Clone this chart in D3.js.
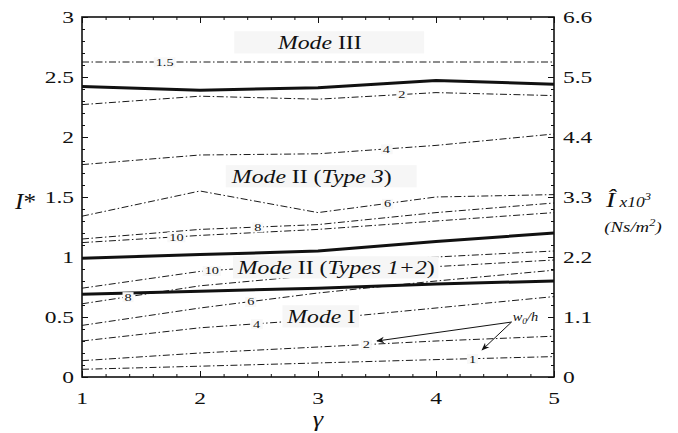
<!DOCTYPE html>
<html>
<head>
<meta charset="utf-8">
<script src="https://cdn.jsdelivr.net/npm/d3@7"></script>
<style>
  body { margin: 0; background: #fff; }
  svg text { font-family: "Liberation Serif", "Times New Roman", serif; fill: #111; }
</style>
</head>
<body>
<div id="container"></div>
<script>
let w = 678;
let h = 433;
// the original figure is stretched sideways, so text gets the same stretch
let sx = 1.38;
let captionSx = 1.25;

let gammaValues = [1, 2, 3, 4, 5];
let xTickValues = [1, 2, 3, 4, 5];
let yTickValues = [0, 0.5, 1, 1.5, 2, 2.5, 3];
let yRightTickValues = [0, 1.1, 2.2, 3.3, 4.4, 5.5, 6.6];

// thick solid lines: mode boundaries
let boundaryModeIII = [2.42, 2.39, 2.41, 2.47, 2.44];
let boundaryType3 = [0.99, 1.02, 1.05, 1.13, 1.20];
let boundaryModeI = [0.69, 0.715, 0.74, 0.775, 0.80];

// upper family of dash-dot curves (w0/h)
let upperNames = ["1.5", "2", "4", "6", "8", "10"];
let upperW15 = [2.625, 2.625, 2.625, 2.625, 2.625];
let upperW2 = [2.27, 2.34, 2.315, 2.37, 2.345];
let upperW4 = [1.77, 1.85, 1.86, 1.93, 2.025];
let upperW6 = [1.34, 1.55, 1.37, 1.50, 1.52];
let upperW8 = [1.15, 1.23, 1.27, 1.37, 1.45];
let upperW10 = [1.12, 1.18, 1.23, 1.30, 1.37];
let upperLabelGamma = [1.70, 3.71, 3.58, 3.59, 2.49, 1.80];

// lower family of dash-dot curves (w0/h)
let lowerNames = ["1", "2", "4", "6", "8", "10"];
let lowerW1 = [0.064, 0.09, 0.117, 0.145, 0.17];
let lowerW2 = [0.136, 0.20, 0.25, 0.30, 0.34];
let lowerW4 = [0.30, 0.41, 0.48, 0.575, 0.67];
let lowerW6 = [0.43, 0.575, 0.70, 0.80, 0.89];
let lowerW8 = [0.61, 0.76, 0.85, 0.92, 0.975];
let lowerW10 = [0.74, 0.88, 0.95, 1.00, 1.05];
let lowerLabelGamma = [4.31, 3.41, 2.48, 2.43, 1.39, 2.10];

let upperSeries = [upperW15, upperW2, upperW4, upperW6, upperW8, upperW10];
let lowerSeries = [lowerW1, lowerW2, lowerW4, lowerW6, lowerW8, lowerW10];

let viz = d3.select("#container")
  .append("svg")
    .attr("width", w)
    .attr("height", h)
    .style("background-color", "white")
;

let xScale = d3.scaleLinear().domain([1, 5]).range([82, 554]);
let yScale = d3.scaleLinear().domain([0, 3]).range([377, 17]);
let yRightScale = d3.scaleLinear().domain([0, 6.6]).range([377, 17]);

function toPoints(values){
  return values.map(function(v, i){ return [gammaValues[i], v]; });
}

let lineMaker = d3.line()
  .x(function(d){ return xScale(d[0]); })
  .y(function(d){ return yScale(d[1]); });

// text placed with the sideways stretch
function stretchText(x, y, size, anchor, stretch){
  let g = viz.append("g").attr("transform", "translate(" + x + "," + y + ") scale(" + (stretch || sx) + ",1)");
  return g.append("text")
    .attr("font-size", size)
    .attr("text-anchor", anchor || "start");
}

// dash-dot curves
let allThin = upperSeries.concat(lowerSeries);
viz.selectAll(".thin").data(allThin).enter()
  .append("path")
    .classed("thin", true)
    .attr("d", function(d){ return lineMaker(toPoints(d)); })
    .attr("fill", "none")
    .attr("stroke", "#1a1a1a")
    .attr("stroke-width", 1)
    .attr("stroke-dasharray", "7,2.5,1.5,2.5")
;

// thick boundaries
viz.selectAll(".thick").data([boundaryModeIII, boundaryType3, boundaryModeI]).enter()
  .append("path")
    .classed("thick", true)
    .attr("d", function(d){ return lineMaker(toPoints(d)); })
    .attr("fill", "none")
    .attr("stroke", "#111")
    .attr("stroke-width", 3)
;

// mode captions with their light boxes
let modeCaptions = [
  {g: 2.66, v: 2.733, padL: 34, padR: 50, parts: [["Mode", true], [" III", false]]},
  {g: 2.27, v: 1.617, padL: 4, padR: 20, parts: [["Mode", true], [" II (", false], ["Type 3", true], [")", false]]},
  {g: 2.32, v: 0.858, padL: 3, padR: 3, parts: [["Mode", true], [" II (", false], ["Types 1+2", true], [")", false]]},
  {g: 2.74, v: 0.45, padL: 3, padR: 3, parts: [["Mode", true], [" I", false]]}
];
modeCaptions.forEach(function(c){
  let t = stretchText(xScale(c.g), yScale(c.v), 19, "start", captionSx);
  c.parts.forEach(function(p){
    t.append("tspan").text(p[0]).attr("font-style", p[1] ? "italic" : "normal");
  });
  let b = t.node().getBBox();
  d3.select(t.node().parentNode).insert("rect", "text")
    .attr("x", b.x - c.padL)
    .attr("y", b.y - 1)
    .attr("width", b.width + c.padL + c.padR)
    .attr("height", b.height + 1)
    .attr("fill", "#f6f6f6");
});

// numbers on the curves
function lineLabel(gamma, values, str){
  let v = d3.scaleLinear().domain(gammaValues).range(values)(gamma);
  let t = stretchText(xScale(gamma), yScale(v), 11, "middle", 1.3).attr("dy", "0.35em").text(str);
  let b = t.node().getBBox();
  d3.select(t.node().parentNode).insert("rect", "text")
    .attr("x", b.x - 1.5)
    .attr("y", b.y + 1)
    .attr("width", b.width + 3)
    .attr("height", b.height - 2)
    .attr("fill", "#f8f8f8");
}
upperSeries.forEach(function(s, i){ lineLabel(upperLabelGamma[i], s, upperNames[i]); });
lowerSeries.forEach(function(s, i){ lineLabel(lowerLabelGamma[i], s, lowerNames[i]); });

// w0/h pointer
viz.append("defs").append("marker")
    .attr("id", "head")
    .attr("viewBox", "0 0 10 10")
    .attr("refX", 9).attr("refY", 5)
    .attr("markerWidth", 8).attr("markerHeight", 8)
    .attr("markerUnits", "userSpaceOnUse")
    .attr("orient", "auto")
  .append("path")
    .attr("d", "M0,1 L10,5 L0,9 L3,5 Z")
    .attr("fill", "#111");

let pointerFrom = [4.64, 0.458];
let pointerTo = [[3.50, 0.30], [4.39, 0.225]];
pointerTo.forEach(function(p){
  viz.append("line")
    .attr("x1", xScale(pointerFrom[0])).attr("y1", yScale(pointerFrom[1]))
    .attr("x2", xScale(p[0])).attr("y2", yScale(p[1]))
    .attr("stroke", "#111").attr("stroke-width", 1)
    .attr("marker-end", "url(#head)");
});
let wt = stretchText(xScale(4.65), yScale(0.47), 12, "start", 1.2).attr("font-style", "italic");
wt.append("tspan").text("w");
wt.append("tspan").text("0").attr("font-size", 8).attr("dy", 3);
wt.append("tspan").text("/h").attr("dy", -3);

// ticks, all pointing into the frame
function addTicks(axis, transform){
  viz.append("g")
    .attr("transform", transform)
    .call(axis)
    .call(function(g){ g.select(".domain").remove(); g.selectAll("line").attr("stroke", "#111"); });
}
addTicks(d3.axisLeft(yScale).tickValues(yTickValues).tickSize(-6).tickFormat(""), "translate(82,0)");
addTicks(d3.axisLeft(yScale).tickValues(d3.range(0, 3.001, 0.1)).tickSize(-3).tickFormat(""), "translate(82,0)");
addTicks(d3.axisRight(yRightScale).tickValues(yRightTickValues).tickSize(-6).tickFormat(""), "translate(554,0)");
addTicks(d3.axisRight(yRightScale).tickValues(d3.range(0, 6.601, 0.22)).tickSize(-3).tickFormat(""), "translate(554,0)");
addTicks(d3.axisBottom(xScale).tickValues(xTickValues).tickSize(-6).tickFormat(""), "translate(0,377)");
addTicks(d3.axisBottom(xScale).tickValues(d3.range(1, 5.001, 0.2)).tickSize(-3).tickFormat(""), "translate(0,377)");
addTicks(d3.axisTop(xScale).tickValues(xTickValues).tickSize(-6).tickFormat(""), "translate(0,17)");
addTicks(d3.axisTop(xScale).tickValues(d3.range(1, 5.001, 0.2)).tickSize(-3).tickFormat(""), "translate(0,17)");

viz.append("rect")
  .attr("x", xScale(1)).attr("y", yScale(3))
  .attr("width", xScale(5) - xScale(1))
  .attr("height", yScale(0) - yScale(3))
  .attr("fill", "none")
  .attr("stroke", "#111")
  .attr("stroke-width", 1.6);

// tick labels
yTickValues.forEach(function(v){
  stretchText(74, yScale(v), 17, "end").attr("dy", "0.35em").text(String(v));
});
yRightTickValues.forEach(function(v){
  stretchText(563, yRightScale(v), 17, "start").attr("dy", "0.35em").text(String(v));
});
xTickValues.forEach(function(v){
  stretchText(xScale(v), 404, 17, "middle").text(String(v));
});

// axis titles
let iStar = stretchText(15, 209, 24, "start", 1.05);
iStar.append("tspan").text("I").attr("font-style", "italic");
iStar.append("tspan").text("*");

stretchText(xScale(3), 426, 22, "middle", 1.2).attr("font-style", "italic").text("γ");

let iHat = stretchText(606, 207, 22, "start", 1.25).attr("font-style", "italic");
iHat.append("tspan").text("Î");
iHat.append("tspan").text(" x10").attr("font-size", 14);
iHat.append("tspan").text("3").attr("font-size", 10).attr("dy", -7);

let unit = stretchText(633, 232, 15, "middle", 1.25).attr("font-style", "italic");
unit.append("tspan").text("(Ns/m");
unit.append("tspan").text("2").attr("font-size", 10).attr("dy", -6);
unit.append("tspan").text(")").attr("dy", 6);
</script>
</body>
</html>
